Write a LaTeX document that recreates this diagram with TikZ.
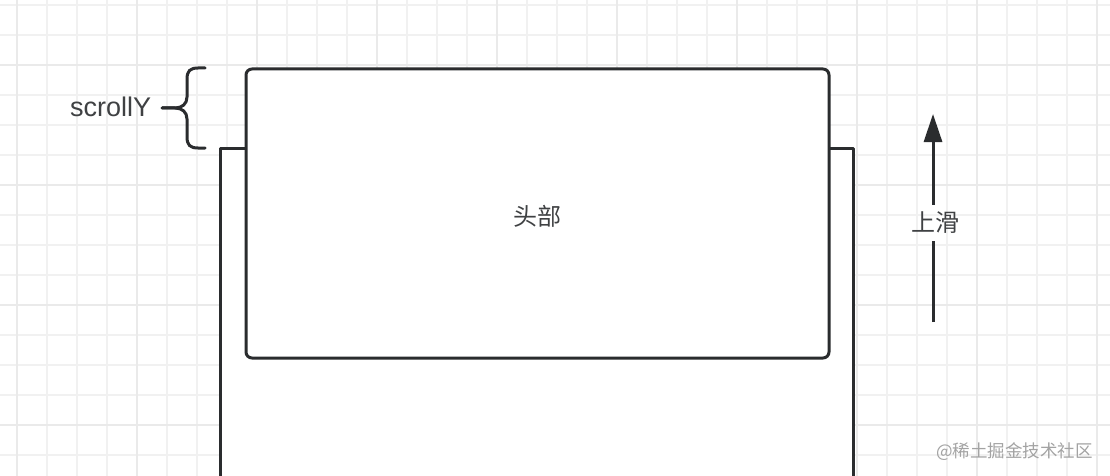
\documentclass[tikz,border=0pt]{standalone}
\usepackage{fontspec}
\setmainfont{Liberation Sans}
\newfontfamily\cjk{Noto Sans CJK SC}
\usetikzlibrary{arrows.meta}
\definecolor{gridminor}{HTML}{F1F1F1}
\definecolor{gridmajor}{HTML}{EAEAEA}
\definecolor{ink}{HTML}{2A2C2E}
\definecolor{wmark}{HTML}{A3A3A3}
\tikzset{
  outline/.style={draw=ink, line width=3pt, line join=round},
  headbox/.style={outline, fill=white, rounded corners=6pt, minimum width=583pt, minimum height=289pt, inner sep=0pt},
  cjklabel/.style={font=\cjk\fontsize{24}{28}\selectfont, text=ink!90, inner sep=0pt},
  uparrow/.style={draw=ink, line width=3pt, -{Triangle[length=28pt,width=18pt]}},
  gridline/.style={line width=1.6pt},
}
\begin{document}
\begin{tikzpicture}[x=1pt,y=-1pt]
\useasboundingbox (0,0) rectangle (1110,476);
\fill[white] (0,0) rectangle (1110,476);
% grid
\foreach \i in {0,...,36} {
  \pgfmathsetmacro{\gx}{16.7+30*\i}
  \draw[gridminor, gridline] (\gx,0) -- (\gx,476);
}
\foreach \i in {0,...,15} {
  \pgfmathsetmacro{\gy}{5+30*\i}
  \draw[gridminor, gridline] (0,\gy) -- (1110,\gy);
}
\foreach \i in {0,...,9} {
  \pgfmathsetmacro{\gx}{16.7+120*\i}
  \draw[gridmajor, gridline] (\gx,0) -- (\gx,476);
}
\foreach \i in {0,...,3} {
  \pgfmathsetmacro{\gy}{65+120*\i}
  \draw[gridmajor, gridline] (0,\gy) -- (1110,\gy);
}
% container (open at the bottom)
\fill[white] (220,490) rectangle (853,148);
\draw[outline] (220,490) -- (220,148) -- (853,148) -- (853,490);
% header box
\node[headbox] (head) at (537.5,213.5) {};
\node[cjklabel, anchor=base] (headtxt) at (537,225) {头部};
% brace
\draw[outline, line cap=round]
  (205,68) -- (198,68) .. controls (190,68) and (187,71) .. (187,79) -- (187,97)
  .. controls (187,104) and (182,108) .. (175,108) -- (162,108);
\draw[outline, line cap=round]
  (162,108) -- (175,108) .. controls (182,108) and (187,112) .. (187,119) -- (187,137)
  .. controls (187,145) and (190,148) .. (198,148) -- (205,148);
\node[font=\fontsize{27}{31}\selectfont, text=ink!90, anchor=base west, inner sep=0pt] (scroll) at (70,117) {scrollY};
% arrow with label
\coordinate (abot) at (933,322);
\coordinate (atop) at (933,114);
\node[cjklabel, minimum height=36pt, minimum width=50pt] (up) at (935,223) {上滑};
\draw[draw=ink, line width=3pt] (abot) -- (abot |- up.south);
\draw[uparrow] (atop |- up.north) -- (atop);
% watermark
\node[font=\cjk\fontsize{17.5}{20}\selectfont, text=wmark, anchor=base east, inner sep=0pt] (wm) at (1093,457) {@稀土掘金技术社区};
\end{tikzpicture}
\end{document}
